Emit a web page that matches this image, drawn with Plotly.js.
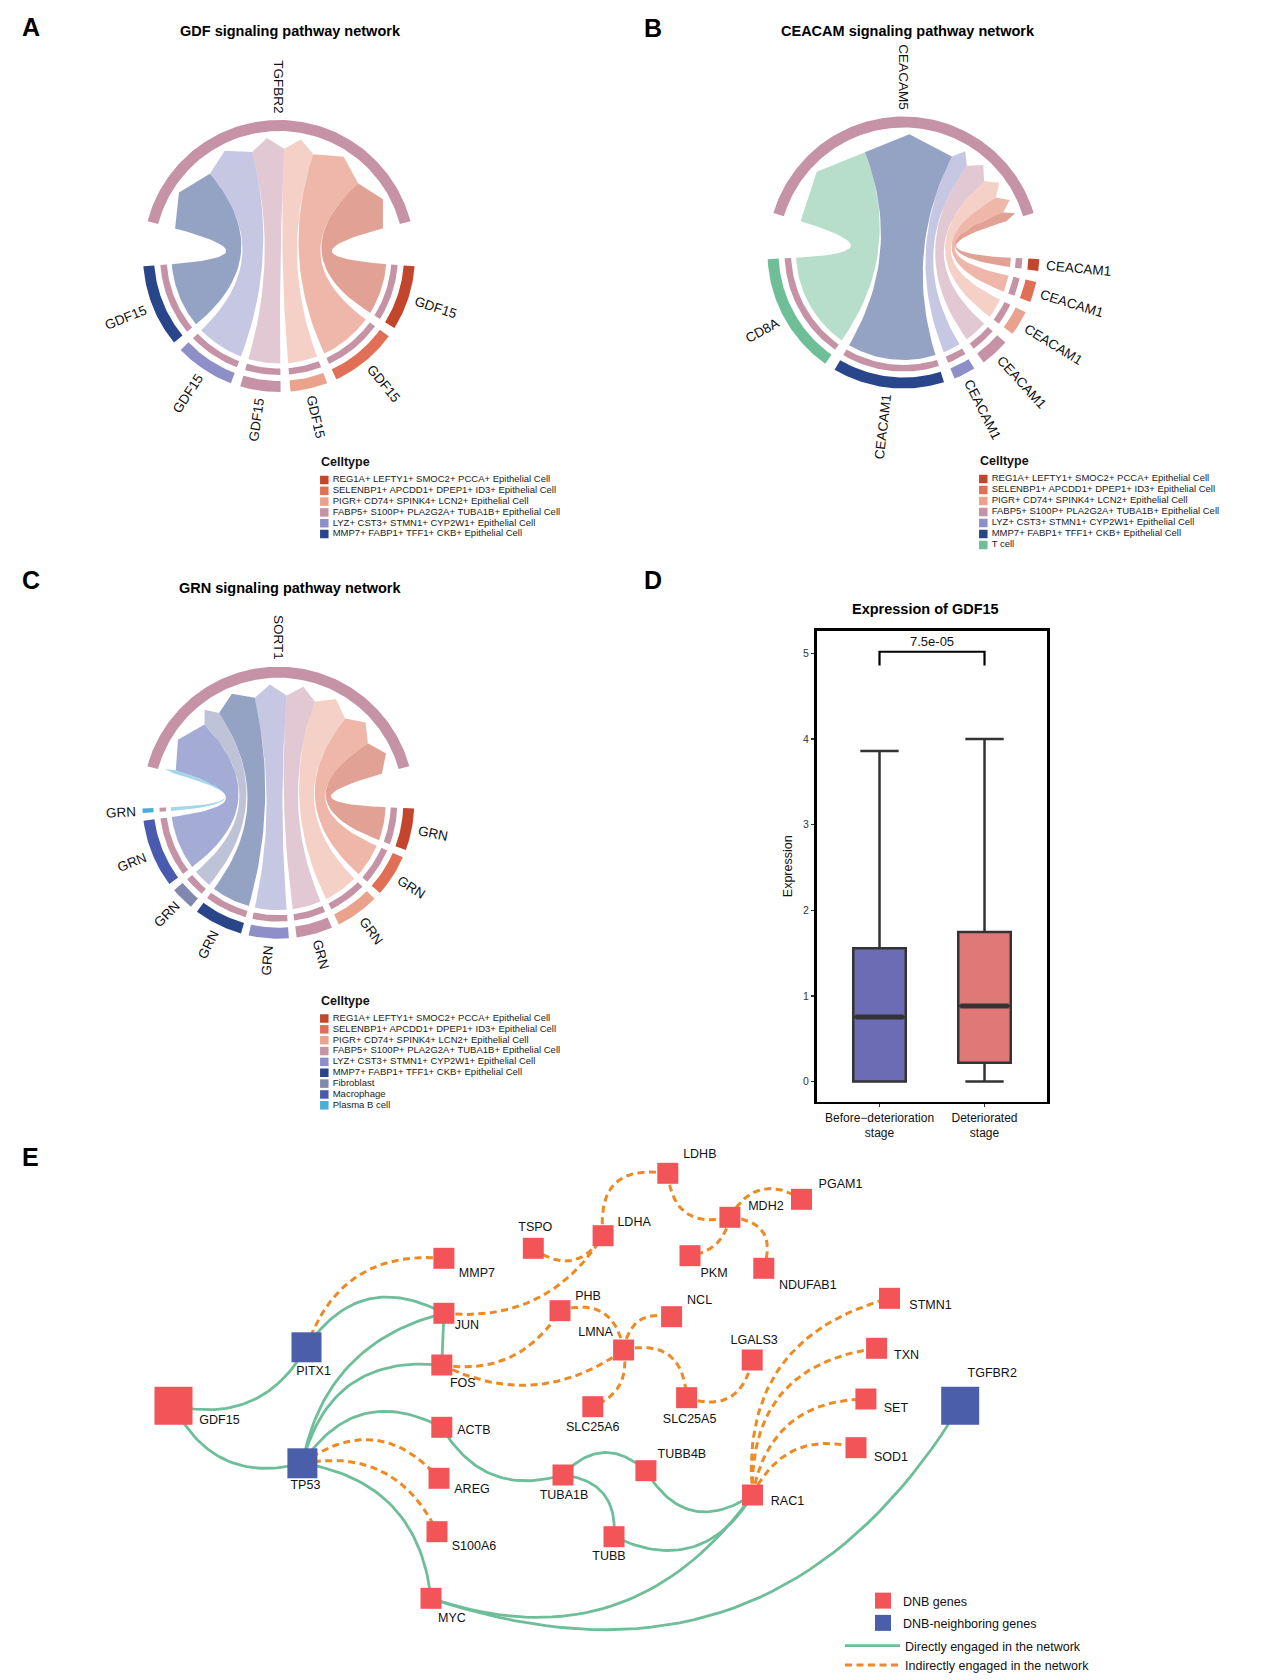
<!DOCTYPE html>
<html>
<head>
<meta charset="utf-8">
<script src="https://cdn.plot.ly/plotly-3.0.1.min.js"></script>
<style>html,body{margin:0;padding:0;background:#fff}#chart{width:1269px;height:1680px}</style>
</head>
<body>
<div id="chart"></div>
<script>
/* ================= DATA ================= */
const celltypes = [
  'REG1A+ LEFTY1+ SMOC2+ PCCA+ Epithelial Cell',
  'SELENBP1+ APCDD1+ DPEP1+ ID3+ Epithelial Cell',
  'PIGR+ CD74+ SPINK4+ LCN2+ Epithelial Cell',
  'FABP5+ S100P+ PLA2G2A+ TUBA1B+ Epithelial Cell',
  'LYZ+ CST3+ STMN1+ CYP2W1+ Epithelial Cell',
  'MMP7+ FABP1+ TFF1+ CKB+ Epithelial Cell',
  'T cell',
  'Fibroblast',
  'Macrophage',
  'Plasma B cell'
];
const celltypeColors = ['#C3452B','#E06F55','#EAA28D','#C592A6','#8E8FC8','#29468A','#6EBE98','#8088B0','#4A5AAE','#4AAED9'];
const receiverCellName = celltypes[3];

// Panel A: GDF signaling (senders listed clockwise from the right)
const gdfReceiverGene = 'TGFBR2';
const gdfSenderGenes = ['GDF15','GDF15','GDF15','GDF15','GDF15','GDF15'];
const gdfSenderCells = [celltypes[0], celltypes[1], celltypes[2], celltypes[3], celltypes[4], celltypes[5]];
const gdfStrength = [28.4, 29.7, 16.3, 17.7, 26.3, 36.1];
const gdfLegendCells = celltypes.slice(0, 6);

// Panel B: CEACAM signaling
const ceacamReceiverGene = 'CEACAM5';
const ceacamSenderGenes = ['CEACAM1','CEACAM1','CEACAM1','CEACAM1','CEACAM1','CEACAM1','CD8A'];
const ceacamSenderCells = [celltypes[0], celltypes[1], celltypes[2], celltypes[3], celltypes[4], celltypes[5], celltypes[6]];
const ceacamStrength = [5.0, 8.9, 10.7, 12.5, 9.4, 47.9, 52.2];
const ceacamLegendCells = celltypes.slice(0, 7);

// Panel C: GRN signaling
const grnReceiverGene = 'SORT1';
const grnSenderGenes = ['GRN','GRN','GRN','GRN','GRN','GRN','GRN','GRN','GRN'];
const grnSenderCells = [celltypes[0], celltypes[1], celltypes[2], celltypes[3], celltypes[4], celltypes[5], celltypes[7], celltypes[8], celltypes[9]];
const grnStrength = [18.3, 18.3, 18.9, 15.7, 17.4, 21.2, 10.1, 29.6, 2.0];
const grnLegendCells = [celltypes[0], celltypes[1], celltypes[2], celltypes[3], celltypes[4], celltypes[5], celltypes[7], celltypes[8], celltypes[9]];

// Panel D: GDF15 expression box plot
const boxGroups = ['Before\u2212deterioration<br>stage', 'Deteriorated<br>stage'];
const boxLower  = [0, 0];
const boxQ1     = [0, 0.22];
const boxMedian = [0.754, 0.883];
const boxQ3     = [1.558, 1.747];
const boxUpper  = [3.86, 4.0];
const pValueText = '7.5e-05';
const bracketLevel = 5.02;
const bracketDrop = 0.16;

// Panel E: DNB network
const geneNames = ['GDF15','PITX1','TP53','MMP7','JUN','FOS','ACTB','AREG','S100A6','TSPO','LDHA','PHB','LMNA','SLC25A6','TUBA1B','TUBB','LDHB','MDH2','PGAM1','PKM','NDUFAB1','NCL','LGALS3','SLC25A5','STMN1','TXN','SET','SOD1','TGFBR2','TUBB4B','RAC1','MYC'];
const geneRole = ['DNB','neighbor','neighbor','DNB','DNB','DNB','DNB','DNB','DNB','DNB','DNB','DNB','DNB','DNB','DNB','DNB','DNB','DNB','DNB','DNB','DNB','DNB','DNB','DNB','DNB','DNB','DNB','DNB','neighbor','DNB','DNB','DNB'];
const edgeFrom = ['GDF15','GDF15','PITX1','TP53','TP53','TP53','TP53','JUN','ACTB','TUBA1B','TUBA1B','TUBB4B','TUBB','RAC1','TGFBR2',
  'PITX1','TP53','TP53','JUN','TSPO','LDHA','LDHB','MDH2','MDH2','MDH2','FOS','FOS','PHB','LMNA','LMNA','LMNA','SLC25A5','RAC1','RAC1','RAC1','RAC1'];
const edgeTo = ['PITX1','TP53','JUN','JUN','FOS','ACTB','MYC','FOS','TUBA1B','TUBB4B','TUBB','RAC1','RAC1','MYC','MYC',
  'MMP7','AREG','S100A6','LDHA','LDHA','LDHB','MDH2','PGAM1','PKM','NDUFAB1','PHB','LMNA','LMNA','NCL','SLC25A6','SLC25A5','LGALS3','STMN1','TXN','SET','SOD1'];
const edgeKind = ['direct','direct','direct','direct','direct','direct','direct','direct','direct','direct','direct','direct','direct','direct','direct',
  'indirect','indirect','indirect','indirect','indirect','indirect','indirect','indirect','indirect','indirect','indirect','indirect','indirect','indirect','indirect','indirect','indirect','indirect','indirect','indirect','indirect'];

/* ================= LAYOUT / STYLE (not data) ================= */
// network layout coordinates (pixels of the page)
const nodeLayoutX = [173.5,306.5,302.4,443.9,443.9,441.8,441.8,439,437,533.3,603.1,560,623.6,592.8,563,614,667.8,729.9,801.5,690,763.8,671.6,752.2,686.6,889.5,876.6,865.9,856,960.2,645.9,752.5,431];
const nodeLayoutY = [1405.7,1347.3,1463.3,1258.3,1313.3,1365,1427.3,1478.3,1531.7,1248.3,1235.7,1310.7,1350,1406.7,1475,1536.7,1173.3,1217.3,1199.3,1255.7,1268.3,1316.7,1360,1397.7,1298.3,1348.3,1399,1447.7,1405.7,1470.7,1495,1598.3];
const nodeSize = [38,30,30,21,21,21,21,21,21,21,21,21,21,21,21,21,21,21,21,21,21,21,21,21,21,21,21,21,38,21,21,21];
const labelDx = [46,7,3,33,23,21,32,33,37,2,31,28,-28,0,1,-5,32,36,39,24,44,28,2,3,41,30,30,35,32,36,35,21];
const labelDy = [15,25,23,16,13,19,4,12,15,-20,-13,-14,-17,21,21,20,-18,-10,-14,18,18,-16,-19,22,8,8,10,10,-32,-16,7,21];
const edgeBend = [0.37,0.4,-0.45,-0.32,-0.43,-0.45,-0.38,0,0.39,-0.49,-0.48,0.52,0.45,-0.37,-0.4,
  -0.39,-0.45,-0.38,0.31,0.53,-0.65,0.57,-0.52,-0.35,-0.63,0.33,0.3,-0.56,-0.52,-0.41,-0.59,0.56,-0.42,-0.45,-0.41,-0.41];

const W = 1269, H = 1680;
const FONT = 'Arial, "Liberation Sans", Helvetica, sans-serif';
const px2x = p => p / W;
const px2y = p => 1 - p / H;
const colorOf = name => celltypeColors[celltypes.indexOf(name)];
function rgba(hex, a) { const n = parseInt(hex.slice(1), 16); return `rgba(${(n>>16)&255},${(n>>8)&255},${n&255},${a})`; }
const mctx = document.createElement('canvas').getContext('2d');
function textWidth(t, size) { mctx.font = `${size}px ${FONT}`; return mctx.measureText(t).width; }

const traces = [];
const annotations = [];
const layout = {
  width: W, height: H, margin: {l:0, r:0, t:0, b:0},
  paper_bgcolor: '#ffffff', plot_bgcolor: 'rgba(0,0,0,0)',
  font: {family: FONT, color: '#111'},
  showlegend: true, annotations: annotations, hovermode: false
};

/* ---------- chord diagrams ---------- */
const R_OUT = [125, 136], R_IN = [112.5, 119], RC = 107.5, RTIP = 118.5, R_LABEL = 143, HALF = 222;
const LABEL_SIZE = 13.5;
const D2R = Math.PI / 180;
const pol = (r, a) => [r * Math.cos(a * D2R), r * Math.sin(a * D2R)];
function arcPts(r, a0, a1) {
  const n = Math.max(4, Math.ceil(Math.abs(a1 - a0) / 1.2));
  const out = [];
  for (let i = 0; i <= n; i++) out.push(pol(r, a0 + (a1 - a0) * i / n));
  return out;
}
function bez(p0, p2) { // quadratic bezier with control point at circle centre
  const out = [];
  for (let i = 1; i < 30; i++) { const t = i / 30, a = (1 - t) * (1 - t), c = t * t; out.push([a * p0[0] + c * p2[0], a * p0[1] + c * p2[1]]); }
  return out;
}
function polyTrace(pts, color, xa, ya) {
  return {type:'scatter', mode:'lines', x: pts.map(p => p[0]).concat([pts[0][0]]), y: pts.map(p => p[1]).concat([pts[0][1]]),
    fill:'toself', fillcolor: color, line:{width:0, color: color}, xaxis: xa, yaxis: ya, hoverinfo:'skip', showlegend:false};
}
function ring(r0, r1, a0, a1) { return arcPts(r1, a0, a1).concat(arcPts(r0, a1, a0)); }
function sectorLabel(text, theta, xa, ya) {
  const t = ((theta % 360) + 360) % 360;
  const w = textWidth(text, LABEL_SIZE);
  const [x, y] = pol(R_LABEL + w / 2, t);
  let ang = (t >= 90 && t < 270) ? 180 - t : -t;
  while (ang > 180) ang -= 360; while (ang < -180) ang += 360;
  annotations.push({xref: xa, yref: ya, x: x, y: y, text: text, textangle: ang, showarrow: false,
    xanchor:'center', yanchor:'middle', font:{size: LABEL_SIZE, family: FONT, color:'#111'}});
}
function chordPanel(k, cx, cy, receiverGene, genes, cells, strength, bigGap, smallGap) {
  const xa = k === 1 ? 'x' : 'x' + k, ya = k === 1 ? 'y' : 'y' + k;
  layout['xaxis' + (k === 1 ? '' : k)] = {domain:[px2x(cx - HALF), px2x(cx + HALF)], range:[-HALF, HALF], visible:false, anchor: ya, fixedrange:true};
  layout['yaxis' + (k === 1 ? '' : k)] = {domain:[px2y(cy + HALF), px2y(cy - HALF)], range:[-HALF, HALF], visible:false, anchor: xa, fixedrange:true};
  const n = strength.length;
  const total = strength.reduce((a, b) => a + b, 0);
  const S = (360 - 2 * bigGap - (n - 1) * smallGap) / 2;
  const w = strength.map(v => v * S / total);
  const topStart = 90 + S / 2, topEnd = 90 - S / 2;
  const sect = [];
  let cur = topEnd - bigGap;
  for (let i = 0; i < n; i++) { sect.push([cur, cur - w[i]]); cur -= w[i] + smallGap; }
  const recv = new Array(n);
  let pos = topStart;
  for (let i = n - 1; i >= 0; i--) { recv[i] = [pos, pos - w[i]]; pos -= w[i]; }
  // links
  for (let i = 0; i < n; i++) {
    const [s0, s1] = sect[i], [b1, b2] = recv[i];
    let pts = arcPts(RC, s0, s1);
    pts = pts.concat(bez(pol(RC, s1), pol(RC, b1)));
    pts.push(pol(RC, b1), pol(RTIP, (b1 + b2) / 2), pol(RC, b2));
    pts = pts.concat(bez(pol(RC, b2), pol(RC, s0)));
    traces.push(polyTrace(pts, rgba(colorOf(cells[i]), 0.5), xa, ya));
  }
  // receiver track
  traces.push(polyTrace(ring(R_OUT[0], R_OUT[1], topStart, topEnd), colorOf(receiverCellName), xa, ya));
  sectorLabel(receiverGene, 90, xa, ya);
  // sender tracks
  for (let i = 0; i < n; i++) {
    const [s0, s1] = sect[i];
    traces.push(polyTrace(ring(R_OUT[0], R_OUT[1], s0, s1), colorOf(cells[i]), xa, ya));
    traces.push(polyTrace(ring(R_IN[0], R_IN[1], s0, s1), colorOf(receiverCellName), xa, ya));
    sectorLabel(genes[i], (s0 + s1) / 2, xa, ya);
  }
}
chordPanel(1, 279, 256, gdfReceiverGene, gdfSenderGenes, gdfSenderCells, gdfStrength, 19.2, 4.2);
chordPanel(2, 903.5, 252.5, ceacamReceiverGene, ceacamSenderGenes, ceacamSenderCells, ceacamStrength, 19.7, 4.7);
chordPanel(3, 278.3, 802.7, grnReceiverGene, grnSenderGenes, grnSenderCells, grnStrength, 18, 3.3);

/* ---------- celltype legends ---------- */
function celltypeLegend(k, cells, lx, titleY, row0, sp) {
  const n = cells.length;
  layout['xaxis' + k] = {domain:[px2x(lx - 10), px2x(lx + 270)], range:[-10, 270], visible:false, anchor:'y' + k, fixedrange:true};
  layout['yaxis' + k] = {domain:[px2y(row0 + (n - 0.5) * sp), px2y(row0 - 0.5 * sp)], range:[n - 0.5, -0.5], visible:false, anchor:'x' + k, fixedrange:true};
  traces.push({type:'scatter', mode:'markers', x: cells.map(() => 0), y: cells.map((_, i) => i),
    marker:{symbol:'square', size:8.5, opacity:1, color: cells.map(colorOf), line:{width:0}}, xaxis:'x' + k, yaxis:'y' + k, cliponaxis:false, showlegend:false, hoverinfo:'skip'});
  traces.push({type:'scatter', mode:'text', x: cells.map(() => 8.4), y: cells.map((_, i) => i), text: cells,
    textposition:'middle right', textfont:{size:9.5, color:'#222', family: FONT}, xaxis:'x' + k, yaxis:'y' + k, cliponaxis:false, showlegend:false, hoverinfo:'skip'});
  annotations.push({xref:'paper', yref:'paper', x: px2x(lx - 5), y: px2y(titleY), text:'<b>Celltype</b>', xanchor:'left', yanchor:'middle',
    showarrow:false, font:{size:12.5, family: FONT, color:'#111'}});
}
celltypeLegend(6, gdfLegendCells, 324.3, 461.7, 480, 10.8);
celltypeLegend(7, ceacamLegendCells, 983.3, 461, 479, 11);
celltypeLegend(8, grnLegendCells, 324.3, 1001, 1018.5, 10.85);

/* ---------- panel D: box plot ---------- */
const boxFill = ['#6C6CB4', '#E07878'];
const BOXW = 0.5;
layout.xaxis4 = {domain:[px2x(816.5), px2x(1047)], range:[-0.6, 1.595], anchor:'y4', tickvals:[0, 1], ticktext: boxGroups,
  ticks:'outside', ticklen:3, tickwidth:1.2, tickcolor:'#333', tickfont:{size:12, color:'#111', family: FONT},
  showline:true, mirror:true, linewidth:2.5, linecolor:'#000', showgrid:false, zeroline:false, fixedrange:true};
layout.yaxis4 = {domain:[px2y(1101.7), px2y(630.8)], range:[-0.236, 5.265], anchor:'x4', tickvals:[0,1,2,3,4,5],
  ticks:'outside', ticklen:3, tickwidth:1.2, tickcolor:'#333', tickfont:{size:10.5, color:'#333', family: FONT},
  showline:true, mirror:true, linewidth:2.5, linecolor:'#000', showgrid:false, zeroline:false, fixedrange:true,
  title:{text:'Expression', font:{size:12.5, color:'#111', family: FONT}, standoff:8}};
for (let i = 0; i < boxGroups.length; i++) {
  traces.push({type:'box', xaxis:'x4', yaxis:'y4', x:[i], q1:[boxQ1[i]], median:[boxMedian[i]], q3:[boxQ3[i]],
    lowerfence:[boxLower[i]], upperfence:[boxUpper[i]], fillcolor: boxFill[i], line:{color:'#333333', width:2.5},
    width: BOXW, whiskerwidth:0.73, boxpoints:false, showlegend:false, hoverinfo:'skip'});
  traces.push({type:'scatter', mode:'lines', xaxis:'x4', yaxis:'y4', x:[i - BOXW / 2 + 0.02, i + BOXW / 2 - 0.02], y:[boxMedian[i], boxMedian[i]],
    line:{color:'#333333', width:5}, showlegend:false, hoverinfo:'skip'});
}
traces.push({type:'scatter', mode:'lines', xaxis:'x4', yaxis:'y4', x:[0, 0, 1, 1],
  y:[bracketLevel - bracketDrop, bracketLevel, bracketLevel, bracketLevel - bracketDrop], line:{color:'#000', width:2.2}, showlegend:false, hoverinfo:'skip'});
annotations.push({xref:'x4', yref:'y4', x:0.5, y:bracketLevel, text:pValueText, showarrow:false, yanchor:'bottom', yshift:1,
  font:{size:13, color:'#111', family: FONT}});

/* ---------- panel E: network ---------- */
layout.xaxis5 = {domain:[0, 1], range:[0, W], visible:false, anchor:'y5', fixedrange:true};
layout.yaxis5 = {domain:[0, px2y(1140)], range:[H, 1140], visible:false, anchor:'x5', fixedrange:true};
function edgePath(kind) {
  const xs = [], ys = [];
  for (let e = 0; e < edgeFrom.length; e++) {
    if (edgeKind[e] !== kind) continue;
    const a = geneNames.indexOf(edgeFrom[e]), b = geneNames.indexOf(edgeTo[e]);
    const x0 = nodeLayoutX[a], y0 = nodeLayoutY[a], x2 = nodeLayoutX[b], y2 = nodeLayoutY[b];
    const dx = x2 - x0, dy = y2 - y0;
    const cxp = (x0 + x2) / 2 + edgeBend[e] * (-dy), cyp = (y0 + y2) / 2 + edgeBend[e] * dx;
    for (let i = 0; i <= 40; i++) {
      const t = i / 40, a1 = (1 - t) * (1 - t), b1 = 2 * t * (1 - t), c1 = t * t;
      xs.push(a1 * x0 + b1 * cxp + c1 * x2); ys.push(a1 * y0 + b1 * cyp + c1 * y2);
    }
    xs.push(null); ys.push(null);
  }
  return [xs, ys];
}
const [gx, gy] = edgePath('direct');
const [ox, oy] = edgePath('indirect');
traces.push({type:'scatter', mode:'lines', xaxis:'x5', yaxis:'y5', x: gx, y: gy, name:'Directly engaged in the network',
  line:{color:'#6DBE99', width:2.8}, legend:'legend2', legendrank:3, hoverinfo:'skip'});
traces.push({type:'scatter', mode:'lines', xaxis:'x5', yaxis:'y5', x: ox, y: oy, name:'Indirectly engaged in the network',
  line:{color:'#EE8A23', width:3, dash:'7px,4.5px'}, legend:'legend2', legendrank:4, hoverinfo:'skip'});
function nodeTrace(role, color, name, rank, grp) {
  const idx = geneNames.map((g, i) => i).filter(i => geneRole[i] === role);
  return {type:'scatter', mode:'markers', xaxis:'x5', yaxis:'y5', x: idx.map(i => nodeLayoutX[i]), y: idx.map(i => nodeLayoutY[i]),
    marker:{symbol:'square', size: idx.map(i => nodeSize[i]), color: color, opacity:1, line:{width:0}}, name: name,
    legend:'legend', legendgroup: grp, legendrank: rank, hoverinfo:'skip'};
}
traces.push(nodeTrace('DNB', '#F25458', 'DNB genes', 1, 'g1'));
traces.push(nodeTrace('neighbor', '#4B5EAA', 'DNB-neighboring genes', 2, 'g2'));
traces.push({type:'scatter', mode:'text', xaxis:'x5', yaxis:'y5', x: nodeLayoutX.map((v, i) => v + labelDx[i]), y: nodeLayoutY.map((v, i) => v + labelDy[i]),
  text: geneNames, textposition:'middle center', textfont:{size:12.5, color:'#111', family: FONT}, showlegend:false, hoverinfo:'skip', cliponaxis:false});

layout.legend = {x: px2x(863), y: px2y(1586), xanchor:'left', yanchor:'top', bgcolor:'rgba(0,0,0,0)', borderwidth:0,
  font:{size:12.5, family: FONT, color:'#111'}, itemwidth:30, traceorder:'grouped', tracegroupgap:3};
layout.legend2 = {x: px2x(840), y: px2y(1631), xanchor:'left', yanchor:'top', bgcolor:'rgba(0,0,0,0)', borderwidth:0,
  font:{size:12.5, family: FONT, color:'#111'}, itemwidth:55, traceorder:'normal', tracegroupgap:0};

/* ---------- titles & panel letters ---------- */
function paperText(x, y, text, size, anchor) {
  annotations.push({xref:'paper', yref:'paper', x: px2x(x), y: px2y(y), text: text, showarrow:false, xanchor: anchor || 'center', yanchor:'middle',
    font:{size: size, family: FONT, color:'#000'}});
}
paperText(290.4, 30.7, '<b>GDF signaling pathway network</b>', 14.5);
paperText(907.9, 30.7, '<b>CEACAM signaling pathway network</b>', 14.5);
paperText(290.4, 588.3, '<b>GRN signaling pathway network</b>', 14.5);
paperText(925, 609.3, '<b>Expression of GDF15</b>', 14.5);
paperText(20, 26.7, '<b>A</b>', 25, 'left');
paperText(642, 28.3, '<b>B</b>', 25, 'left');
paperText(20, 580, '<b>C</b>', 25, 'left');
paperText(642, 579.5, '<b>D</b>', 25, 'left');
paperText(20, 1156.7, '<b>E</b>', 25, 'left');

Plotly.newPlot('chart', traces, layout, {staticPlot:true, displayModeBar:false});
</script>
</body>
</html>
